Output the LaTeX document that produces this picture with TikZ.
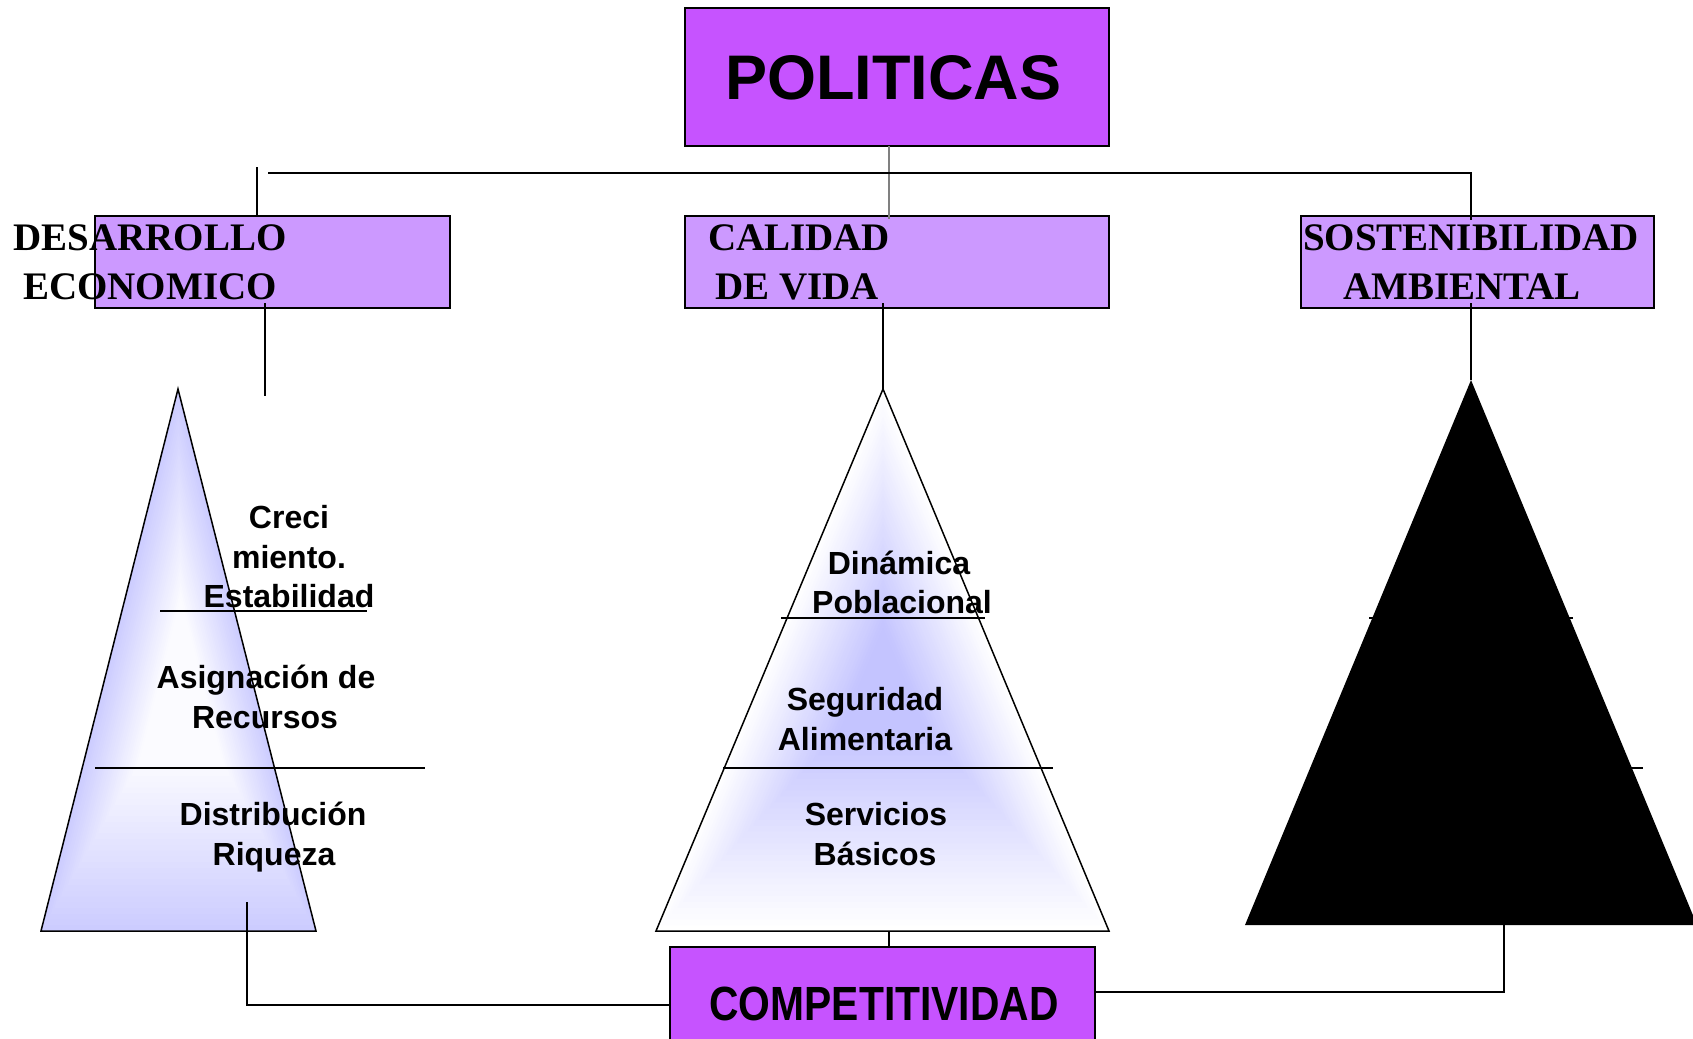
\documentclass[tikz,border=0pt]{standalone}
\usepackage{fontspec}
\setmainfont{Liberation Sans}
\newfontfamily\serifb{Liberation Serif}
\usetikzlibrary{calc}
\definecolor{polc}{HTML}{C653FF}
\definecolor{subc}{HTML}{CC99FF}
\definecolor{lav}{HTML}{CCCCFF}
\definecolor{lavb}{HTML}{C4C4FF}
\tikzset{
 bigbox/.style={draw, line width=1.6pt, fill=polc, inner sep=0pt, outer sep=0pt},
 subbox/.style={draw, line width=1.6pt, fill=subc, inner sep=0pt, outer sep=0pt},
 conn/.style={line width=1.6pt},
 tri/.style={line width=1.5pt},
 headtxt/.style={font=\serifb\bfseries\fontsize{39}{47}\selectfont, anchor=base, inner sep=0pt},
 bodytxt/.style={font=\bfseries\fontsize{32}{38}\selectfont, anchor=base, inner sep=0pt},
}
\begin{document}
\begin{tikzpicture}[x=1pt,y=-1pt]
\useasboundingbox (0,0) rectangle (1693,1038);

% ---------- triangles ----------
\coordinate (LA) at (178,389);
\coordinate (LB) at (41,931);
\coordinate (LD) at (316,931);
\coordinate (LC) at (182,690);
\foreach \i in {0,...,40}{
  \pgfmathsetmacro\s{1-\i/42}
  \pgfmathsetmacro\p{min(92,\i*3.2)}
  \fill[white!\p!lav] ($(LC)!\s!(LA)$) -- ($(LC)!\s!(LB)$) -- ($(LC)!\s!(LD)$) -- cycle;
}
\draw[tri] (LA) -- (LB) -- (LD) -- cycle;

\coordinate (MA) at (883,389);
\coordinate (MB) at (656,931);
\coordinate (MD) at (1109,931);
\coordinate (MC) at (883,685);
\foreach \i in {0,...,40}{
  \pgfmathsetmacro\s{1-\i/42}
  \pgfmathsetmacro\p{min(100,\i*3.0)}
  \fill[lavb!\p!white] ($(MC)!\s!(MA)$) -- ($(MC)!\s!(MB)$) -- ($(MC)!\s!(MD)$) -- cycle;
}
\draw[tri] (MA) -- (MB) -- (MD) -- cycle;

\coordinate (RA) at (1471,380);
\coordinate (RB) at (1245,925);
\coordinate (RD) at (1697,925);
\fill[black] (RA) -- (RB) -- (RD) -- cycle;

% ---------- divider lines ----------
\coordinate (l1a) at (160,611); \coordinate (l1b) at (367,611);
\coordinate (l2a) at (95,768);  \coordinate (l2b) at (425,768);
\coordinate (m1a) at (781,618); \coordinate (m1b) at (985,618);
\coordinate (m2a) at (723,768); \coordinate (m2b) at (1053,768);
\coordinate (r1a) at (1369,618); \coordinate (r1b) at (1573,618);
\coordinate (r2a) at (1311,768); \coordinate (r2b) at (1643,768);
\draw[conn] (l1a) -- (l1b);
\draw[conn] (l2a) -- (l2b);
\draw[conn] (m1a) -- (m1b);
\draw[conn] (m2a) -- (m2b);
\draw[conn] (r1a) -- (r1b);
\draw[conn] (r2a) -- (r2b);

% ---------- boxes ----------
\node[bigbox, minimum width=424pt, minimum height=138pt] (pol) at (897,77) {};
\node[subbox, minimum width=355pt, minimum height=92pt] (dev) at (272.5,262) {};
\node[subbox, minimum width=424pt, minimum height=92pt] (cal) at (897,262) {};
\node[subbox, minimum width=353pt, minimum height=92pt] (sos) at (1477.5,262) {};
\node[bigbox, minimum width=425pt, minimum height=100pt] (comp) at (882.5,997) {};

% ---------- box texts ----------
\node[font=\bfseries\fontsize{63}{70}\selectfont, anchor=base, inner sep=0pt] (tpol) at (893,100) {POLITICAS};
\node[headtxt] (tdev1) at (150,250) {DESARROLLO};
\node[headtxt] (tdev2) at (150,299) {ECONOMICO};
\node[headtxt] (tcal1) at (799,250) {CALIDAD};
\node[headtxt] (tcal2) at (797,299) {DE VIDA};
\node[headtxt] (tsos1) at (1471,250) {SOSTENIBILIDAD};
\node[headtxt] (tsos2) at (1462,299) {AMBIENTAL};
\node[font=\bfseries\fontsize{48}{54}\selectfont, anchor=base, inner sep=0pt] (tcomp) at (884,1020) {\scalebox{0.85}[1]{COMPETITIVIDAD}};

% ---------- triangle texts ----------
\node[bodytxt] (e1) at (289,528) {Creci};
\node[bodytxt] (e2) at (289,568) {miento.};
\node[bodytxt] (e3) at (289,607) {Estabilidad};
\node[bodytxt] (e4) at (266,688) {Asignación de};
\node[bodytxt] (e5) at (265,728) {Recursos};
\node[bodytxt] (e6) at (273,825) {Distribución};
\node[bodytxt] (e7) at (274,865) {Riqueza};
\node[bodytxt] (c1) at (899,574) {Dinámica};
\node[bodytxt] (c2) at (902,613) {Poblacional};
\node[bodytxt] (c3) at (865,710) {Seguridad};
\node[bodytxt] (c4) at (865,750) {Alimentaria};
\node[bodytxt] (c5) at (876,825) {Servicios};
\node[bodytxt] (c6) at (875,865) {Básicos};

% ---------- connectors ----------
\coordinate (g1) at (889,146); \coordinate (g2) at (889,219);
\draw[conn, gray] (g1) -- (g2);
\coordinate (h1) at (268,173); \coordinate (h2) at (1471,173); \coordinate (h3) at (1471,220);
\draw[conn] (h1) -- (h2) -- (h3);
\coordinate (d0) at (257,167); \coordinate (d1) at (257,216);
\draw[conn] (d0) -- (d1);
\coordinate (dv1) at (265,303); \coordinate (dv2) at (265,396);
\draw[conn] (dv1) -- (dv2);
\coordinate (cv1) at (883,303);
\draw[conn] (cv1) -- (MA);
\coordinate (sv1) at (1471,303);
\draw[conn] (sv1) -- (RA);
\coordinate (mb) at (889,931); \coordinate (mc) at (889,947);
\draw[conn] (mb) -- (mc);
\coordinate (lq1) at (247,902); \coordinate (lq2) at (247,1005); \coordinate (lq3) at (670,1005);
\draw[conn] (lq1) -- (lq2) -- (lq3);
\coordinate (rq1) at (1504,925); \coordinate (rq2) at (1504,992); \coordinate (rq3) at (1095,992);
\draw[conn] (rq1) -- (rq2) -- (rq3);
\end{tikzpicture}
\end{document}
